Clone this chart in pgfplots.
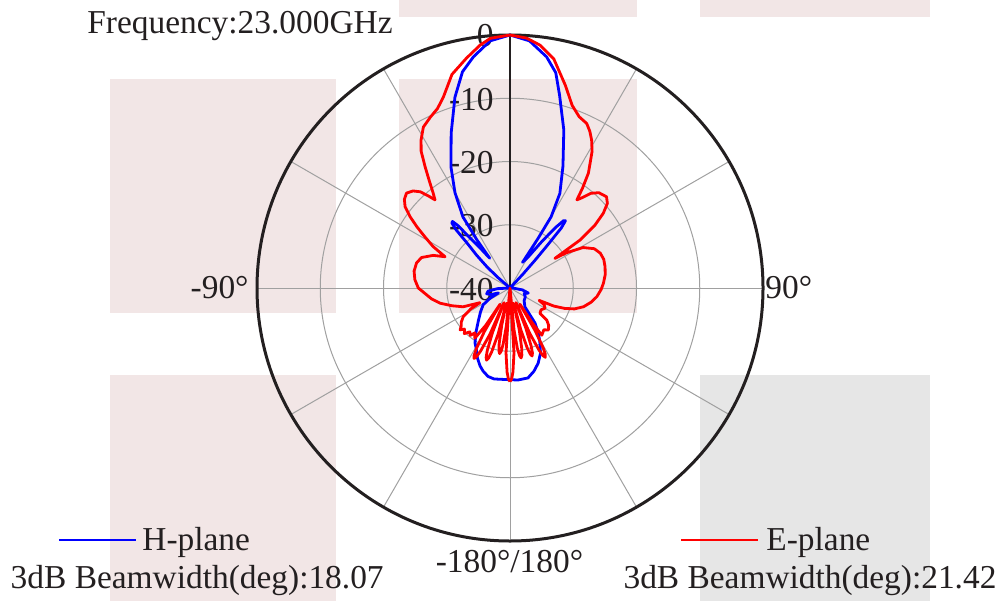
\documentclass[border=0pt]{standalone}
\usepackage{fontspec}
\setmainfont{Liberation Serif}
\usepackage{pgfplots}
\usepackage{pgfplotstable}
\pgfplotsset{compat=1.18}
\definecolor{txt}{RGB}{35,31,32}
\definecolor{bgpink}{RGB}{242,230,230}
\definecolor{bggray}{RGB}{230,230,230}
\definecolor{gridgray}{RGB}{160,160,160}

% H-plane: angle (deg, clockwise from top), gain (dB)
\pgfplotstableread{
a db
-180 -25.5
-175 -25.5
-170 -25.4
-166 -25.6
-162 -26.2
-159 -26.8
-155 -27.8
-151 -29.0
-147.5 -29.7
-142 -31.3
-136 -32.8
-129 -34.0
-122 -35.0
-117 -36.5
-113 -38.0
-109 -36.8
-104 -36.2
-98 -36.5
-93 -38.0
-88 -40.5
-80 -42
-60 -42
-52 -41
-49 -37.5
-47.5 -35.1
-45.5 -32.6
-43.7 -30.2
-42.8 -27.4
-41.8 -26.2
-40.8 -26.1
-39.8 -27.2
-38.8 -29.5
-37 -31.8
-34.3 -34.3
-34.5 -30.8
-33.5 -26.5
-30 -22.6
-26 -18.7
-20.8 -13.8
-16.1 -8.6
-12.4 -5.0
-9 -3.0
-4.6 -0.8
0 0
4.5 -0.8
9 -3.0
12 -5.2
14.4 -8.5
18.8 -13.6
23.5 -19.0
27.8 -23.1
30 -27.0
29.5 -31.0
26 -35.5
30 -34.5
34.5 -31.0
37 -28.0
38.5 -26.4
39.5 -26.2
40.5 -27.5
41.2 -31
42 -34
43 -37
46 -40
55 -42
85 -42
92 -39.5
98.7 -38.0
105.5 -37.0
112 -37.6
120 -37.2
132 -37.0
141.7 -36.2
144.5 -33.2
148 -31.5
151.4 -30.1
155 -28.6
159.5 -27.3
164 -26.3
168.7 -25.5
175 -25.4
180 -25.5
}\hplane

% E-plane
\pgfplotstableread{
a db
-180 -25.2
-179 -25.6
-178 -26.7
-176.5 -29.7
-175.5 -40
-174.5 -34
-173 -31
-172 -29.9
-171 -29.5
-170 -29.9
-169 -31
-167.5 -34
-166.5 -37.5
-165.5 -32.5
-164 -29.5
-163 -28.4
-162 -28
-161 -28.4
-160 -29.5
-158.5 -32.5
-157.5 -37.5
-156.5 -32
-155 -29
-154 -27.9
-153 -27.5
-152 -27.9
-151 -29
-149.5 -32
-148.5 -37
-147 -33
-145 -30.3
-142 -31
-140 -30.2
-137.5 -30.6
-135 -29.8
-132 -30.3
-130 -29.7
-128 -30.2
-125 -30.6
-121.6 -31.3
-118 -33
-116 -34.7
-113 -33
-111.8 -32.0
-107 -30.4
-102.3 -28.7
-98 -27.5
-94.8 -26.8
-90 -25.5
-85 -24.9
-80 -24.6
-75 -24.7
-71 -25.2
-67 -26.8
-64.3 -28.6
-61.7 -26.2
-59 -24.3
-56.7 -22.4
-54.5 -20.6
-52.2 -19.0
-50 -18.2
-47.5 -17.8
-45 -18.3
-43 -19.2
-41.5 -20.6
-40.4 -21.7
-39 -20.7
-37 -18.8
-35 -16.6
-33 -14.2
-31 -12.7
-28.3 -11.1
-25 -10.2
-22 -9.4
-19.2 -8.0
-15.2 -5.0
-10.7 -3
-7 -1.3
-4.5 -0.4
0 0
3.8 -0.4
7 -1.3
10.8 -3.1
15.3 -6.8
18.8 -9.5
22 -10.8
25 -11.3
27 -12.2
28.9 -13.3
31 -14.8
34.3 -18
36 -20.5
37.2 -22.5
38.5 -21.8
40.5 -20.3
43 -19.4
46.6 -19
49 -19.6
51.3 -21.1
53.5 -23.3
55.6 -26.6
56.6 -31.5
58 -29.5
61 -26.8
65 -25.3
68.9 -24.7
73 -24.5
77.4 -24.6
82 -24.8
87 -25.2
91 -25.6
95.7 -26.2
100 -27
104.3 -28.0
108 -29.3
110.5 -30.8
112.4 -32.5
113 -35
116 -34
120 -33.6
125 -34
130.2 -33.8
131.1 -32.3
134 -31.5
137.6 -31.0
141 -31.5
146 -31.0
147.5 -33.5
148.5 -37
149.5 -32.2
151 -29.2
152 -28.1
153 -27.7
154 -28.1
155 -29.2
156.5 -32.2
157.5 -37.5
158.5 -33.2
160 -30.2
161 -29.1
162 -28.7
163 -29.1
164 -30.2
165.5 -33.2
166.5 -37.5
167.5 -33.3
169 -30.3
170 -29.2
171 -28.8
172 -29.2
173 -30.3
174.5 -33.3
175.5 -40
176.5 -29.7
178 -26.7
179 -25.6
180 -25.2
}\eplane

\begin{document}
\begin{tikzpicture}[every node/.style={font=\fontsize{16.7}{20}\selectfont, text=txt, inner sep=0pt}]
\useasboundingbox (0,0) rectangle (500pt,300.5pt);
% background blocks
\fill[bgpink] (55pt,144pt) rectangle (168pt,261pt);
\fill[bgpink] (199.5pt,144pt) rectangle (318.5pt,261pt);
\fill[bgpink] (199.5pt,292pt) rectangle (318.5pt,300.5pt);
\fill[bgpink] (350pt,292pt) rectangle (465pt,300.5pt);
\fill[bgpink] (55pt,0pt) rectangle (168pt,113pt);
\fill[bggray] (350pt,0pt) rectangle (465pt,113pt);
% polar grid
\begin{scope}[shift={(255pt,156.5pt)}]
  \foreach \r in {31.625pt,63.25pt,94.875pt}
    \draw[gridgray,line width=0.5pt] (0,0) circle[radius=\r];
  \foreach \t in {30,60,120,150,180,210,240,270,300,330}
    \draw[gridgray,line width=0.5pt] (0,0) -- ({90-\t}:126.5pt);
  \draw[gridgray,line width=0.5pt] (15pt,0) -- (126.5pt,0);
  \draw[txt,line width=1.2pt] (0,0) -- (0,126.5pt);
  \draw[txt,line width=1.5pt] (0,0) circle[radius=126.5pt];
\end{scope}
% radial labels
\node[anchor=base east] at (247pt,277pt) {0};
\node[anchor=base east] at (247pt,245.4pt) {-10};
\node[anchor=base east] at (247pt,213.75pt) {-20};
\node[anchor=base east] at (247pt,182.1pt) {-30};
\node[anchor=base east] at (247pt,150.5pt) {-40};
% angular labels
\node[anchor=base east] at (124.5pt,151.35pt) {-90°};
\node[anchor=base west] at (382.5pt,151.35pt) {90°};
\node[anchor=base] at (254.75pt,14.15pt) {-180°/180°};
% title
\node[anchor=base] at (120pt,283.85pt) {Frequency:23.000GHz};
% legends
\draw[blue,line width=1.4pt] (29.5pt,30.5pt) -- (68pt,30.5pt);
\node[anchor=base west] at (71pt,25.5pt) {H-plane};
\node[anchor=base] at (98.6pt,6.35pt) {3dB Beamwidth(deg):18.07};
\draw[red,line width=1.4pt] (340.5pt,30.5pt) -- (379pt,30.5pt);
\node[anchor=base west] at (383pt,25.5pt) {E-plane};
\node[anchor=base] at (405pt,6.35pt) {3dB Beamwidth(deg):21.42};
% curves
\begin{axis}[at={(255pt,156.5pt)}, anchor=center, width=253pt, height=253pt,
  scale only axis, hide axis, xmin=-40, xmax=40, ymin=-40, ymax=40, clip=false]
\addplot[blue, line width=1.4pt, line join=round] table[
  x expr={max(\thisrow{db}+40,0)*sin(\thisrow{a})},
  y expr={max(\thisrow{db}+40,0)*cos(\thisrow{a})}] {\hplane};
\addplot[red, line width=1.4pt, line join=round] table[
  x expr={max(\thisrow{db}+40,0)*sin(\thisrow{a})},
  y expr={max(\thisrow{db}+40,0)*cos(\thisrow{a})}] {\eplane};
\end{axis}
\end{tikzpicture}
\end{document}
